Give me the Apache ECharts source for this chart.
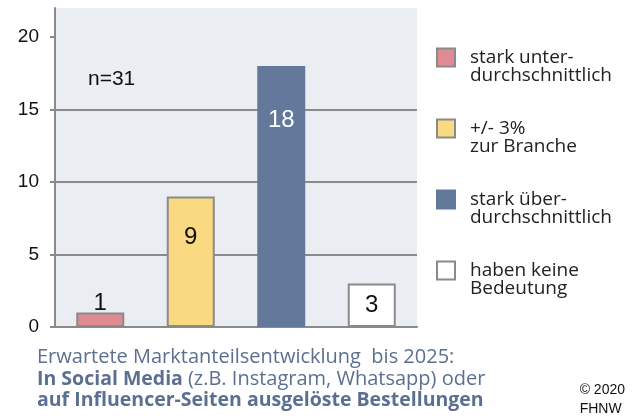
<!DOCTYPE html>
<html>
<head>
<meta charset="utf-8">
<script src="https://cdn.jsdelivr.net/npm/echarts@6/dist/echarts.min.js"></script>
<style>
html, body { margin: 0; padding: 0; background: #fff; }
#chart { width: 633px; height: 416px; }
</style>
</head>
<body>
<div id="chart"></div>
<script>
// Kategorien und Werte
const categories = ['stark unter-\ndurchschnittlich', '+/- 3%\nzur Branche', 'stark über-\ndurchschnittlich', 'haben keine\nBedeutung']
const values = [1, 9, 18, 3]
const yTicks = [0, 5, 10, 15, 20]

const colors = ['#e08b91', '#f9d981', '#62799c', '#ffffff']
const borders = ['#8a8a8a', '#8a8a8a', '#62799c', '#8a8a8a']
const labelCfg = [
  { position: 'top', distance: -3, color: '#111' },
  { position: 'insideTop', distance: 29, color: '#111' },
  { position: 'insideTop', distance: 42, color: '#ffffff' },
  { position: 'inside', color: '#111' }
]

const chart = echarts.init(document.getElementById('chart'))

const series = categories.map((name, i) => {
  const data = categories.map((c, j) => (j === i ? values[i] : '-'))
  return {
    name: name,
    type: 'bar',
    stack: 'all',
    barWidth: 48,
    data: data,
    itemStyle: {
      color: colors[i],
      borderColor: borders[i],
      borderWidth: 2
    },
    label: Object.assign({
      show: true,
      fontSize: 24,
      fontFamily: 'Liberation Sans, Arial, sans-serif'
    }, labelCfg[i])
  }
})

const capColor = '#5b7091'

const option = {
  animation: false,
  title: [{
    text: 'n=31',
    left: 83,
    top: 64,
    textStyle: { fontSize: 21, fontWeight: 'normal', color: '#111', fontFamily: 'Liberation Sans, Arial, sans-serif' }
  }, {
    text: '{r|Erwartete Marktanteilsentwicklung  bis 2025:}\n{b|In Social Media} {r|(z.B. Instagram, Whatsapp) oder}\n{b|auf Influencer-Seiten ausgelöste Bestellungen}',
    left: 37,
    top: 347,
    padding: 0,
    textStyle: {
      fontWeight: 'normal',
      rich: {
        r: { fontSize: 20, fontFamily: 'Open Sans', fontWeight: 'normal', color: capColor, lineHeight: 21.5 },
        b: { fontSize: 19.5, fontFamily: 'Open Sans', fontWeight: 'bold', color: capColor, lineHeight: 21.5 }
      }
    }
  }, {
    text: '© 2020\nFHNW',
    right: 8,
    top: 381,
    padding: 0,
    textStyle: { fontSize: 14, fontWeight: 'normal', color: '#111', lineHeight: 19, fontFamily: 'Liberation Sans, Arial, sans-serif', align: 'right' }
  }],
  legend: {
    orient: 'vertical',
    left: 436,
    top: 30,
    padding: 0,
    itemWidth: 18,
    itemHeight: 18,
    itemGap: 16,
    icon: 'rect',
    selectedMode: false,
    data: categories,
    // Leerzeile oben, damit das Symbol auf Höhe der ersten Zeile steht
    formatter: name => '\n' + name,
    textStyle: {
      fontSize: 19,
      fontFamily: 'Open Sans',
      color: '#222',
      lineHeight: 18,
      padding: [0, 0, 0, 10]
    }
  },
  grid: {
    left: 55,
    right: 216,
    top: 8,
    bottom: 89,
    show: true,
    backgroundColor: '#eaeef2',
    borderWidth: 0
  },
  xAxis: {
    type: 'category',
    data: categories,
    axisLine: { show: true, lineStyle: { color: '#8a8a8a', width: 2 } },
    axisTick: { show: false },
    axisLabel: { show: false }
  },
  yAxis: {
    type: 'value',
    min: 0,
    max: 22,
    interval: 5,
    axisLine: { show: true, lineStyle: { color: '#8a8a8a', width: 2 } },
    axisTick: { show: true, length: 5, customValues: yTicks, lineStyle: { color: '#8a8a8a', width: 2 } },
    axisLabel: { customValues: yTicks, fontSize: 19, color: '#111', margin: 16, fontFamily: 'Liberation Sans, Arial, sans-serif' },
    splitLine: { show: true, showMinLine: false, showMaxLine: false, lineStyle: { color: '#8a8a8a', width: 2 } }
  },
  series: series
}
chart.setOption(option)
</script>
</body>
</html>
